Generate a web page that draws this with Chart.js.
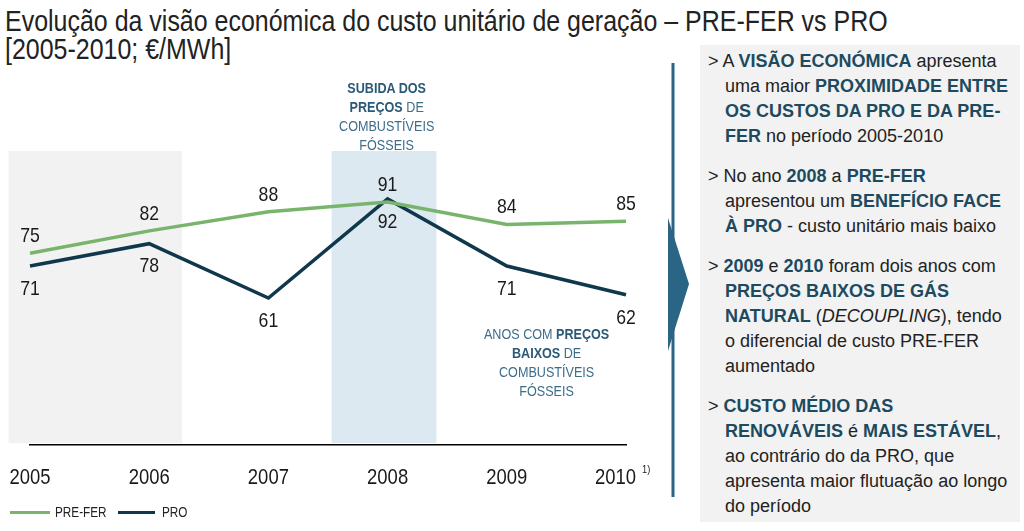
<!DOCTYPE html>
<html>
<head>
<meta charset="utf-8">
<script src="https://cdn.jsdelivr.net/npm/chart.js@4.4.1/dist/chart.umd.min.js"></script>
<style>
  html,body{margin:0;padding:0;background:#fff;}
  body{width:1024px;height:531px;position:relative;overflow:hidden;font-family:'Liberation Sans',Arial,sans-serif;}
  .sx{display:inline-block;transform-origin:0 0;white-space:nowrap;}
  #title{position:absolute;left:5px;top:7px;font-size:30px;line-height:28px;color:#222;}
  #chartWrap{position:absolute;left:0;top:0;width:660px;height:531px;}
  .ann{position:absolute;font-size:15px;line-height:19px;color:#3d6d8a;white-space:nowrap;}
  .ann .sx{text-align:center;transform-origin:50% 0;transform:scaleX(0.84);}
  .ann b{color:#2a5a78;}
  #panel{position:absolute;left:700px;top:45px;width:287px;height:477px;background:#f2f2f2;padding:0 8px 0 25px;}
  #panel p{margin:0 0 15px 0;text-indent:-17px;font-size:18px;line-height:25px;color:#222;}
  #panel b{color:#1d4a5e;}
  #panel .first{padding-top:4px;}
  #legend{position:absolute;left:10px;top:503px;font-size:14px;color:#222;height:20px;white-space:nowrap;}
  #legend span.sw{display:inline-block;width:40px;height:3px;vertical-align:middle;}
  #legend span.lab{display:inline-block;vertical-align:middle;transform:scaleX(0.84);transform-origin:0 50%;}
</style>
</head>
<body>
<div id="title"><span class="sx" id="t1">Evolução da visão económica do custo unitário de geração – PRE-FER vs PRO</span><br><span class="sx" id="t2">[2005-2010; €/MWh]</span></div>

<div id="chartWrap"><canvas id="c" width="660" height="531"></canvas></div>

<div class="ann" style="left:287px;top:78px;width:200px;text-align:center;"><span class="sx"><b>SUBIDA DOS<br>PREÇOS</b> DE<br>COMBUSTÍVEIS<br>FÓSSEIS</span></div>
<div class="ann" style="left:447px;top:324px;width:200px;text-align:center;"><span class="sx">ANOS COM <b>PREÇOS<br>BAIXOS</b> DE<br>COMBUSTÍVEIS<br>FÓSSEIS</span></div>

<div id="legend"><span class="sw" style="background:#79b46d"></span><span class="lab" style="margin-left:5px;width:63px">PRE-FER</span><span class="sw" style="background:#10384d;width:37px"></span><span class="lab" style="margin-left:7px">PRO</span></div>

<svg style="position:absolute;left:660px;top:55px" width="40" height="450">
  <rect x="11.5" y="8" width="3" height="434" fill="#2b6585"/>
  <polygon points="8,163 29,229 8,296" fill="#2b6585"/>
</svg>

<div id="panel">
  <p class="first">&gt; A <b>VISÃO ECONÓMICA</b> apresenta uma maior <b>PROXIMIDADE ENTRE OS CUSTOS DA PRO E DA PRE-FER</b> no período 2005-2010</p>
  <p>&gt; No ano <b>2008</b> a <b>PRE-FER</b> apresentou um <b>BENEFÍCIO FACE À PRO</b> - custo unitário mais baixo</p>
  <p>&gt; <b>2009</b> e <b>2010</b> foram dois anos com <b>PREÇOS BAIXOS DE GÁS NATURAL</b> (<i>DECOUPLING</i>), tendo o diferencial de custo PRE-FER aumentado</p>
  <p>&gt; <b>CUSTO MÉDIO DAS RENOVÁVEIS</b> é <b>MAIS ESTÁVEL</b>, ao contrário do da PRO, que apresenta maior flutuação ao longo do período</p>
</div>

<script>
const years = ['2005','2006','2007','2008','2009','2010'];
const preFer = [75, 82, 88, 91, 84, 85];
const pro = [71, 78, 61, 92, 71, 62];
const footnoteIndex = 5;
const footnote = '1)';
const bands = [
  {from: -0.18, to: 1.275, color: '#f2f2f2'},
  {from: 2.53, to: 3.41, color: '#dde9f1'}
];
const FONT = "'Liberation Sans',Arial,sans-serif";
const NARROW_SCALE = 0.84;

// fit the condensed title
(function(){
  const t1 = document.getElementById('t1');
  const s = 883 / t1.offsetWidth;
  t1.style.transform = 'scaleX(' + s + ')';
  document.getElementById('t2').style.transform = 'scaleX(' + s + ')';
})();

function narrowText(ctx, text, x, y, align) {
  ctx.save();
  ctx.translate(x, y);
  ctx.scale(NARROW_SCALE, 1);
  ctx.textAlign = align || 'center';
  ctx.fillText(text, 0, 0);
  ctx.restore();
}

const bandPlugin = {
  id: 'bands',
  beforeDatasetsDraw(chart) {
    const {ctx, chartArea, scales: {x}} = chart;
    ctx.save();
    bands.forEach(b => {
      const x0 = x.getPixelForValue(b.from), x1 = x.getPixelForValue(b.to);
      ctx.fillStyle = b.color;
      ctx.fillRect(x0, chartArea.top, x1 - x0, chartArea.bottom - chartArea.top - 2);
    });
    ctx.restore();
  }
};

const labelPlugin = {
  id: 'vlabels',
  afterDraw(chart) {
    const {ctx, chartArea} = chart;
    const xs = chart.scales.x;
    ctx.save();
    ctx.fillStyle = '#1a1a1a';
    ctx.textBaseline = 'middle';
    ctx.font = "21px " + FONT;
    chart.data.datasets.forEach((ds, di) => {
      const meta = chart.getDatasetMeta(di);
      meta.data.forEach((pt, i) => {
        const off = di === 0 ? -17 : 23;
        narrowText(ctx, String(ds.data[i]), pt.x, pt.y + off);
      });
    });
    // category labels of the x axis
    ctx.font = "22px " + FONT;
    const ty = chartArea.bottom + 33;
    years.forEach((y, i) => {
      const px = xs.getPixelForValue(i);
      if (i === footnoteIndex) {
        narrowText(ctx, y, px + 10, ty, 'right');
        ctx.font = "11px " + FONT;
        narrowText(ctx, footnote, px + 16, ty - 8, 'left');
        ctx.font = "22px " + FONT;
      } else {
        narrowText(ctx, y, px, ty);
      }
    });
    ctx.restore();
  }
};

new Chart(document.getElementById('c'), {
  type: 'line',
  data: {
    labels: years,
    datasets: [
      {label: 'PRE-FER', data: preFer, borderColor: '#79b46d', borderWidth: 3.5, pointRadius: 0, tension: 0},
      {label: 'PRO', data: pro, borderColor: '#10384d', borderWidth: 3.5, pointRadius: 0, tension: 0}
    ]
  },
  options: {
    responsive: false,
    animation: false,
    layout: {padding: {left: 30, right: 34, top: 151, bottom: 31}},
    plugins: {legend: {display: false}, tooltip: {enabled: false}},
    scales: {
      x: {
        offset: false,
        grid: {display: false},
        border: {display: true, color: '#000', width: 1.5},
        ticks: {display: false},
        afterFit: s => { s.height = 55; s.paddingLeft = 0; s.paddingRight = 0; }
      },
      y: {display: false, min: 15, max: 107}
    }
  },
  plugins: [bandPlugin, labelPlugin]
});
</script>
</body>
</html>
